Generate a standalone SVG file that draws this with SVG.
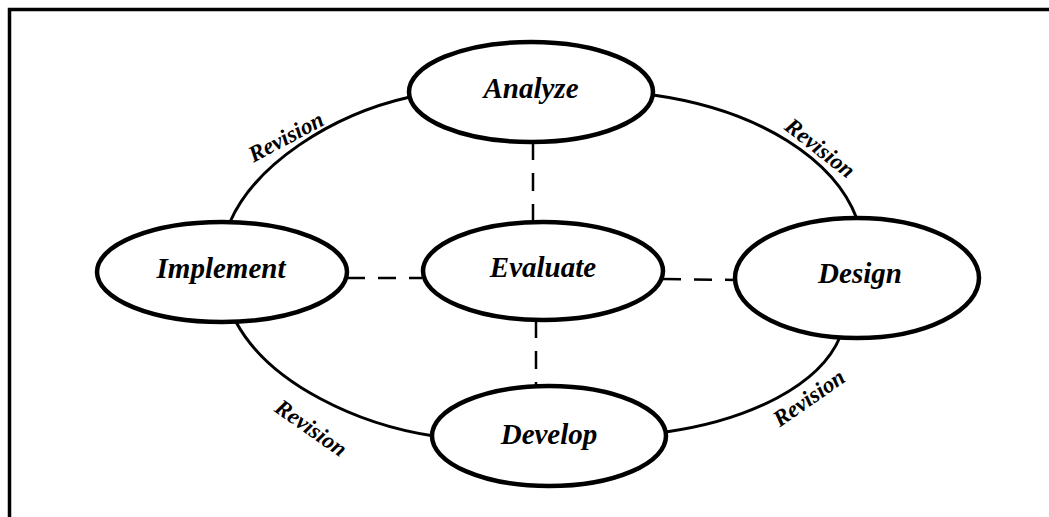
<svg xmlns="http://www.w3.org/2000/svg" width="1049" height="517" viewBox="0 0 1049 517">
  <style>
    .node { fill: #ffffff; stroke: #000000; stroke-width: 4.5; }
    .label { font-family: "Liberation Serif", "Times New Roman", serif; font-weight: bold; font-style: italic; font-size: 29px; fill: #000000; text-anchor: middle; dominant-baseline: central; }
    .rev { font-family: "Liberation Serif", "Times New Roman", serif; font-weight: bold; font-style: italic; font-size: 23px; fill: #000000; text-anchor: middle; dominant-baseline: central; }
    .cycle { fill: none; stroke: #000000; stroke-width: 3; }
    .link { fill: none; stroke: #000000; stroke-width: 2.5; stroke-dasharray: 18 13; }
  </style>
  <rect width="1049" height="517" fill="#ffffff"/>
  <!-- frame -->
  <polyline points="9.5,517 9.5,9.5 1049,9.5" fill="none" stroke="#000000" stroke-width="3.5"/>

  <g id="connectors">
    <!-- revision cycle -->
    <path class="cycle" d="M410,97 C330,115 255,165 230,222"/>
    <path class="cycle" d="M653,95 C760,110 835,160 857,219"/>
    <path class="cycle" d="M236,322 C270,385 360,425 434,436"/>
    <path class="cycle" d="M666,432 C750,420 820,385 840,337"/>
    <!-- evaluation links -->
    <line class="link" x1="533" y1="142" x2="533" y2="221"/>
    <line class="link" x1="347" y1="278" x2="422" y2="278"/>
    <line class="link" x1="663" y1="279" x2="735" y2="280"/>
    <line class="link" x1="536" y1="320" x2="536" y2="386"/>
    <text class="rev" transform="translate(286,137) rotate(-28)">Revision</text>
    <text class="rev" transform="translate(820,148) rotate(38)">Revision</text>
    <text class="rev" transform="translate(311,428) rotate(35)">Revision</text>
    <text class="rev" transform="translate(809,398) rotate(-35)">Revision</text>
  </g>

  <g id="analyze">
    <ellipse class="node" cx="531" cy="92" rx="122" ry="50"/>
    <text class="label" x="531" y="88">Analyze</text>
  </g>
  <g id="implement">
    <ellipse class="node" cx="222" cy="272" rx="125" ry="50"/>
    <text class="label" x="221" y="268">Implement</text>
  </g>
  <g id="evaluate">
    <ellipse class="node" cx="543" cy="271" rx="120" ry="49"/>
    <text class="label" x="543" y="267">Evaluate</text>
  </g>
  <g id="design">
    <ellipse class="node" cx="857" cy="278" rx="122" ry="60"/>
    <text class="label" x="860" y="273">Design</text>
  </g>
  <g id="develop">
    <ellipse class="node" cx="549" cy="436" rx="117" ry="50"/>
    <text class="label" x="549" y="434">Develop</text>
  </g>
</svg>
